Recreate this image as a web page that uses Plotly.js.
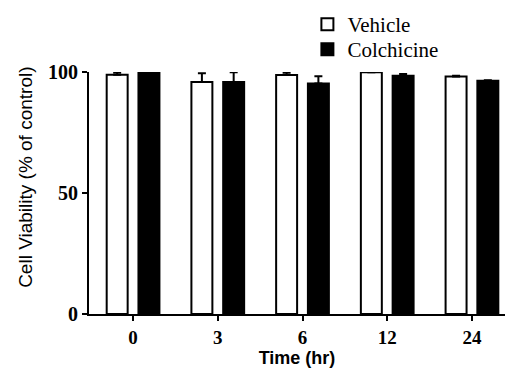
<!DOCTYPE html>
<html>
<head>
<meta charset="utf-8">
<script src="https://cdn.plot.ly/plotly-3.0.1.min.js"></script>
<style>html,body{margin:0;padding:0;background:#fff;}#chart{width:507px;height:368px;}</style>
</head>
<body>
<div id="chart"></div>
<script>
const categories = ["0", "3", "6", "12", "24"];
const vehicleMean = [98.9, 95.9, 98.8, 99.9, 98.1];
const vehicleErr = [0.9, 3.6, 0.9, 0, 0.3];
const colchicineMean = [100, 95.9, 95.2, 98.5, 96.4];
const colchicineErr = [0, 4.0, 3.0, 0.7, 0.2];
const seriesNames = ["Vehicle", "Colchicine"];
const yTicks = [0, 50, 100];

const zeros = categories.map(() => 0);
const serif = "Liberation Serif, Times New Roman, serif";
const sans = "Liberation Sans, Arial, sans-serif";

const traces = [
  {
    type: "bar", name: seriesNames[0], x: categories, y: vehicleMean,
    legend: "legend",
    marker: {color: "#ffffff", line: {color: "#000000", width: 2}},
    error_y: {type: "data", symmetric: false, array: vehicleErr, arrayminus: zeros,
              color: "#000000", thickness: 2, width: 4},
    cliponaxis: false
  },
  {
    type: "bar", name: seriesNames[1], x: categories, y: colchicineMean,
    legend: "legend2",
    marker: {color: "#000000", line: {color: "#000000", width: 2}},
    error_y: {type: "data", symmetric: false, array: colchicineErr, arrayminus: zeros,
              color: "#000000", thickness: 2, width: 4},
    cliponaxis: false
  }
];

const legendCommon = {
  xanchor: "left", yanchor: "middle",
  font: {family: serif, size: 21, color: "#000"},
  itemclick: false, bgcolor: "rgba(0,0,0,0)", borderwidth: 0
};

const layout = {
  width: 507, height: 368,
  margin: {l: 89, r: 2, t: 72, b: 54},
  paper_bgcolor: "#ffffff", plot_bgcolor: "#ffffff",
  barmode: "group", bargap: 0.25, bargroupgap: 0.34,
  showlegend: true,
  legend: Object.assign({x: 0.525, y: 1.196}, legendCommon),
  legend2: Object.assign({x: 0.525, y: 1.093}, legendCommon),
  xaxis: {
    type: "category", range: [-0.52, 4.39],
    showline: true, linecolor: "#000", linewidth: 2,
    ticks: "outside", ticklen: 5, tickwidth: 2, tickcolor: "#000",
    showgrid: false, zeroline: false,
    tickfont: {family: serif, size: 19, color: "#000", weight: "bold"},
    title: {text: "<b>Time (hr)</b>", font: {family: sans, size: 18, color: "#000"}, standoff: 6}
  },
  yaxis: {
    range: [0, 100], tickvals: yTicks, ticktext: yTicks.map(String),
    showline: true, linecolor: "#000", linewidth: 2,
    ticks: "outside", ticklen: 5, tickwidth: 2, tickcolor: "#000",
    showgrid: false, zeroline: false,
    tickfont: {family: serif, size: 20, color: "#000", weight: "bold"},
    title: {text: "&nbsp;&nbsp;&nbsp;&nbsp;&nbsp;&nbsp;Cell Viability (% of control)", font: {family: sans, size: 19, color: "#000"}, standoff: 10}
  }
};

Plotly.newPlot("chart", traces, layout, {displayModeBar: false, staticPlot: true});
</script>
</body>
</html>
